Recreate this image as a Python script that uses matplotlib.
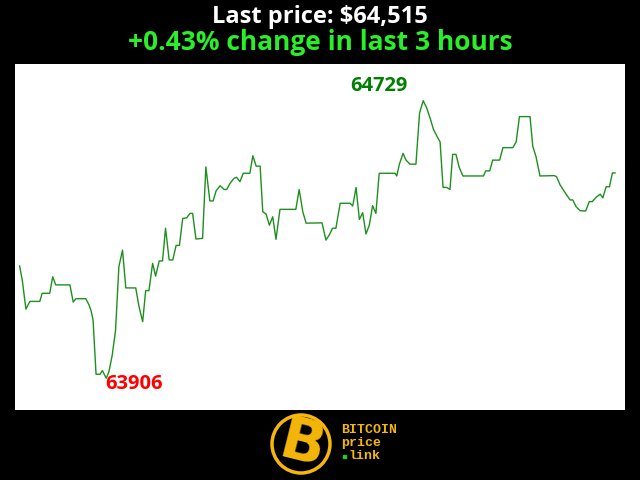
import matplotlib
matplotlib.use("Agg")
import matplotlib.pyplot as plt
from matplotlib.patches import Circle, Rectangle

# minutes since start of the 3 hour window, and BTC price in USD
minutes = [0.0, 0.8, 1.9, 3.1, 6.1, 6.8, 9.1, 10.0, 10.9, 15.2,
           16.2, 17.0, 20.0, 21.0, 21.6, 22.2, 23.1, 24.3, 25.0, 26.2,
           27.0, 28.0, 29.0, 30.0, 31.1, 32.1, 35.1, 36.1, 37.2, 38.1,
           39.1, 40.2, 41.1, 42.2, 43.2, 44.1, 45.2, 46.3, 47.3, 48.3,
           49.3, 50.5, 51.5, 52.3, 53.3, 55.3, 56.3, 57.5, 58.5, 59.4,
           60.6, 61.8, 62.6, 63.6, 64.8, 65.6, 66.6, 67.6, 69.6, 70.5,
           71.5, 72.7, 73.5, 74.5, 75.5, 76.5, 77.5, 78.7, 83.5, 84.5,
           85.6, 86.6, 91.4, 92.6, 93.6, 94.6, 95.6, 96.9, 99.9, 100.7,
           101.7, 102.7, 103.7, 104.7, 105.7, 106.7, 107.7, 108.7, 113.5, 114.0,
           114.8, 115.9, 116.8, 118.0, 119.8, 120.9, 122.0, 123.0, 124.1, 125.1,
           126.2, 127.1, 128.0, 129.1, 130.1, 130.9, 131.9, 132.9, 134.0, 140.2,
           140.9, 142.1, 143.0, 145.1, 146.1, 149.1, 150.1, 151.1, 154.3, 155.1,
           156.1, 157.3, 161.6, 162.3, 163.4, 164.4, 165.4, 166.4, 167.2, 168.2,
           169.4, 171.1, 172.2, 173.1, 174.3, 175.5, 176.3, 177.3, 178.3, 179.2,
           180.0]
prices = [64239, 64197, 64111, 64134, 64134, 64158, 64158, 64207, 64183, 64183,
          64132, 64142, 64142, 64123, 64106, 64079, 63918, 63918, 63929, 63906,
          63926, 63975, 64049, 64237, 64286, 64174, 64174, 64118, 64074, 64166,
          64166, 64247, 64209, 64254, 64254, 64351, 64257, 64257, 64300, 64300,
          64380, 64382, 64395, 64395, 64319, 64321, 64533, 64432, 64432, 64462,
          64477, 64466, 64466, 64484, 64499, 64502, 64489, 64514, 64514, 64566,
          64535, 64535, 64400, 64393, 64360, 64385, 64318, 64407, 64407, 64466,
          64400, 64366, 64367, 64316, 64331, 64351, 64351, 64425, 64425, 64417,
          64472, 64377, 64397, 64334, 64360, 64418, 64395, 64514, 64514, 64506,
          64541, 64573, 64553, 64541, 64541, 64693, 64729, 64709, 64677, 64644,
          64623, 64607, 64472, 64472, 64466, 64570, 64570, 64531, 64506, 64506,
          64521, 64521, 64553, 64553, 64590, 64590, 64607, 64682, 64682, 64595,
          64563, 64506, 64507, 64504, 64479, 64464, 64449, 64435, 64435, 64415,
          64403, 64402, 64430, 64430, 64443, 64452, 64441, 64474, 64474, 64515,
          64515]

last_price = prices[-1]
change = (prices[-1] - prices[0]) / prices[0] * 100

hi = max(prices)
lo = min(prices)
i_hi = prices.index(hi)
i_lo = prices.index(lo)

fig = plt.figure(figsize=(6.4, 4.8), dpi=100, facecolor="black")

# titles
fig.text(0.5, 1 - 17 / 480, f"Last price: ${last_price:,}", color="white",
         fontsize=17, fontweight="bold", family="Open Sans", ha="center", va="center")
fig.text(0.5, 1 - 43 / 480, f"{change:+.2f}% change in last 3 hours", color="#2bee2b",
         fontsize=19, fontweight="bold", family="Open Sans", ha="center", va="center")

# price chart
ax = fig.add_axes([15 / 640, 70 / 480, 610 / 640, 346 / 480])
ax.set_facecolor("white")
ax.plot(minutes, prices, color="#1e8f1e", lw=1)
ax.set_xlim(-1.4, 183.0)
ax.set_ylim(lo - 94, hi + 109)
ax.set_xticks([])
ax.set_yticks([])
for s in ax.spines.values():
    s.set_visible(False)

ax.annotate(str(hi), xy=(minutes[i_hi], hi), xytext=(-11, 7), textcoords="offset points",
            color="green", fontsize=14.5, fontweight="bold", family="Open Sans",
            ha="right", va="baseline")
ax.annotate(str(lo), xy=(minutes[i_lo], lo), xytext=(-1, 3), textcoords="offset points",
            color="red", fontsize=14.5, fontweight="bold", family="Open Sans",
            ha="left", va="top")

# logo
lg = fig.add_axes([265 / 640, 0, 140 / 640, 70 / 480])
lg.set_xlim(265, 405)
lg.set_ylim(480, 410)
lg.axis("off")
gold = "#f5b70a"
lg.add_patch(Circle((301, 444), 29, facecolor="black", edgecolor=gold, lw=2.5))
lg.text(302, 445, "B", color=gold, fontsize=42, fontweight="heavy", family="DejaVu Sans",
        ha="center", va="center", rotation=-14)
lg.text(341, 430, "BITCOIN", color=gold, fontsize=9.5, fontweight="bold",
        family="Liberation Mono", ha="left", va="center")
lg.text(341, 443, "price", color=gold, fontsize=9.5, fontweight="bold",
        family="Liberation Mono", ha="left", va="center")
lg.text(349, 456, "link", color=gold, fontsize=9.5, fontweight="bold",
        family="Liberation Mono", ha="left", va="center")
lg.add_patch(Rectangle((343, 455), 3, 3, color="#22cc22"))

fig.savefig("out.png", dpi=100, facecolor="black")
